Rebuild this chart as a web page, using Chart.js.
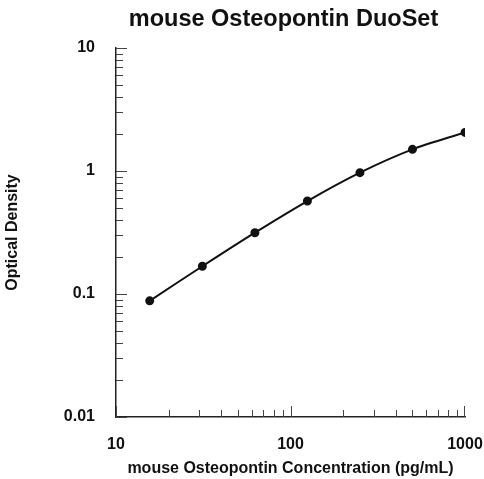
<!DOCTYPE html>
<html>
<head>
<meta charset="utf-8">
<script src="https://cdn.jsdelivr.net/npm/chart.js@4"></script>
<style>
  html, body { margin: 0; padding: 0; background: #fff; }
  canvas { display: block; }
</style>
</head>
<body>
<canvas id="odChart" width="484" height="479"></canvas>
<script>
// standard curve values
const concentrations = [15.6, 31.25, 62.5, 125, 250, 500, 1000];
const opticalDensity = [0.088, 0.168, 0.315, 0.57, 0.97, 1.50, 2.06];

const xTickValues = [10, 100, 1000];
const yTickValues = [0.01, 0.1, 1, 10];

const FONT = "'Liberation Sans', Arial, sans-serif";

// ticks point inward on this style of plot, so draw them ourselves
const inwardTicks = {
  id: "inwardTicks",
  afterLayout(chart) {
    // title sits a bit left of the plot centre in the original
    if (chart.titleBlock) {
      chart.titleBlock.left -= 7;
      chart.titleBlock.right -= 7;
    }
  },
  afterDraw(chart) {
    const ctx = chart.ctx;
    const xs = chart.scales.x;
    const ys = chart.scales.y;
    const area = chart.chartArea;
    ctx.save();
    ctx.strokeStyle = "#444";
    ctx.lineWidth = 1;
    ctx.beginPath();
    // x minor + major
    for (let d = 10; d < 1000; d *= 10) {
      for (let k = 1; k < 10; k++) {
        const v = d * k;
        const px = Math.round(xs.getPixelForValue(v)) + 0.5;
        const len = k === 1 ? 11 : 7;
        ctx.moveTo(px, area.bottom);
        ctx.lineTo(px, area.bottom - len);
      }
    }
    const pxEnd = Math.round(xs.getPixelForValue(1000)) - 0.5;
    ctx.moveTo(pxEnd, area.bottom);
    ctx.lineTo(pxEnd, area.bottom - 11);
    // y minor + major
    for (let d = 0.01; d < 10; d *= 10) {
      for (let k = 1; k < 10; k++) {
        const v = d * k;
        const py = Math.round(ys.getPixelForValue(v)) + 0.5;
        const len = k === 1 ? 11 : 7;
        ctx.moveTo(area.left, py);
        ctx.lineTo(area.left + len, py);
      }
    }
    const pyTop = Math.round(ys.getPixelForValue(10)) + 0.5;
    ctx.moveTo(area.left, pyTop);
    ctx.lineTo(area.left + 11, pyTop);
    ctx.stroke();
    ctx.restore();
  }
};

const ctx = document.getElementById("odChart");

new Chart(ctx, {
  type: "line",
  data: {
    datasets: [{
      data: concentrations.map((c, i) => ({ x: c, y: opticalDensity[i] })),
      borderColor: "#111",
      backgroundColor: "#111",
      borderWidth: 2,
      pointRadius: 3.5,
      pointHoverRadius: 3.5,
      tension: 0.3,
      fill: false
    }]
  },
  options: {
    responsive: false,
    animation: false,
    events: [],
    layout: { padding: { left: 0, right: 19, top: 0, bottom: 0 } },
    plugins: {
      legend: { display: false },
      tooltip: { enabled: false },
      title: {
        display: true,
        text: "mouse Osteopontin DuoSet",
        color: "#111",
        fullSize: false,
        font: { family: FONT, size: 23.5, weight: "bold" },
        padding: { top: 5, bottom: 14.8 }
      }
    },
    scales: {
      x: {
        type: "logarithmic",
        min: 10,
        max: 1000,
        afterBuildTicks: s => { s.ticks = xTickValues.map(v => ({ value: v })); },
        afterFit: s => {
          s.height = 62;
          s.paddingLeft = 10;
          s.paddingRight = 19;
        },
        grid: { display: false, drawTicks: false },
        border: { display: true, color: "#222", width: 1.5 },
        ticks: {
          color: "#111",
          padding: 18.4,
          maxRotation: 0,
          font: { family: FONT, size: 16, weight: "bold" },
          callback: v => String(v)
        },
        title: {
          display: true,
          text: "mouse Osteopontin Concentration (pg/mL)",
          color: "#111",
          font: { family: FONT, size: 16, weight: "bold" },
          padding: { top: 0, bottom: 1 }
        }
      },
      y: {
        type: "logarithmic",
        min: 0.01,
        max: 10,
        afterBuildTicks: s => { s.ticks = yTickValues.map(v => ({ value: v })); },
        afterFit: s => { s.width = 116; },
        grid: { display: false, drawTicks: false },
        border: { display: true, color: "#222", width: 1.5 },
        ticks: {
          color: "#111",
          padding: 21,
          font: { family: FONT, size: 16, weight: "bold" },
          callback: v => String(v)
        },
        title: {
          display: true,
          text: "Optical Density",
          color: "#111",
          font: { family: FONT, size: 16, weight: "bold" },
          padding: { top: 3.4, bottom: 0 }
        }
      }
    }
  },
  plugins: [inwardTicks]
});
</script>
</body>
</html>
